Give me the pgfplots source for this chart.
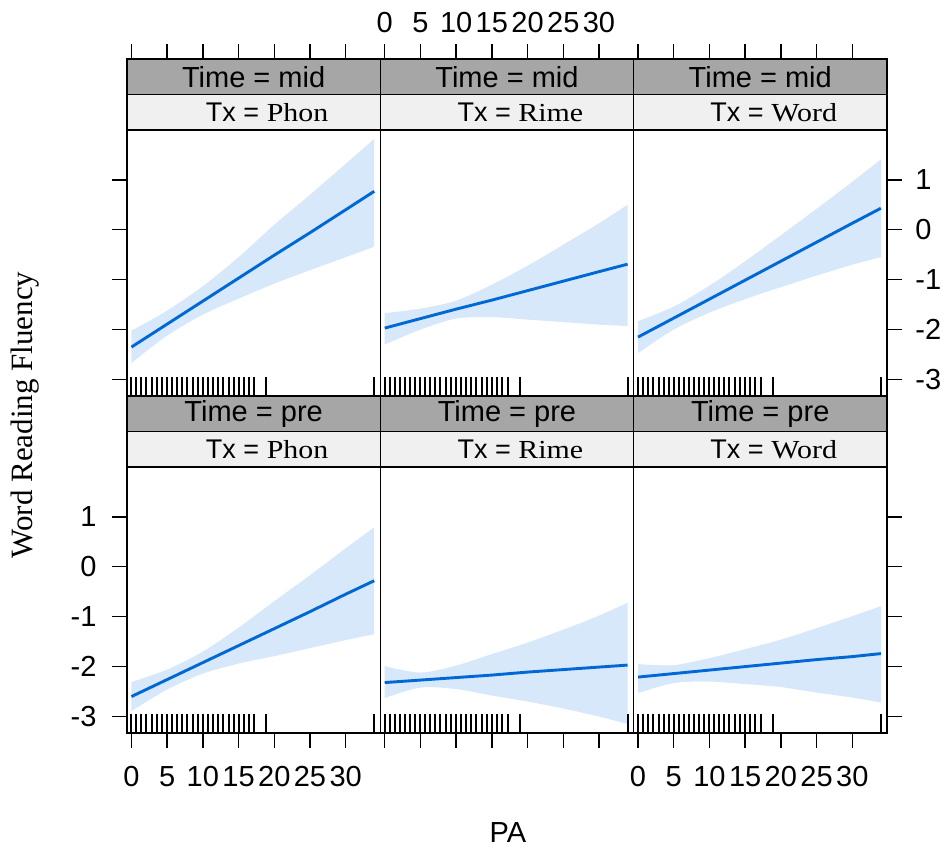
\documentclass[border=0pt]{standalone}
\usepackage{fontspec}
\setmainfont{Liberation Sans}
\newfontfamily\serifX[FakeStretch=1.15]{Liberation Serif}
\newfontfamily\serifY{Liberation Serif}
\usepackage{pgfplots}
\pgfplotsset{compat=1.18}
\usepackage{pgfplotstable}
\usepgfplotslibrary{fillbetween}

\definecolor{stripD}{RGB}{166,166,166}
\definecolor{stripL}{RGB}{240,240,240}
\definecolor{bandc}{RGB}{214,232,250}
\definecolor{fitc}{RGB}{0,104,212}

\pgfplotstableread{
x fit lo hi
0 -2.35 -2.67 -2.02
5 -1.89 -2.12 -1.62
10 -1.43 -1.70 -1.13
15 -0.97 -1.38 -0.55
20 -0.51 -1.08 0.10
25 -0.06 -0.81 0.70
30 0.40 -0.55 1.32
34 0.77 -0.34 1.82
}\tabMP
\pgfplotstableread{
x fit lo hi
0 -1.97 -2.30 -1.67
5 -1.78 -2.00 -1.58
10 -1.59 -1.78 -1.42
15 -1.41 -1.75 -1.10
20 -1.22 -1.80 -0.72
25 -1.03 -1.85 -0.30
30 -0.84 -1.90 0.13
34 -0.69 -1.93 0.50
}\tabMR
\pgfplotstableread{
x fit lo hi
0 -2.15 -2.47 -1.83
5 -1.77 -2.00 -1.54
10 -1.39 -1.66 -1.12
15 -1.01 -1.39 -0.63
20 -0.63 -1.15 -0.11
25 -0.25 -0.92 0.42
30 0.13 -0.70 0.96
34 0.43 -0.55 1.41
}\tabMW
\pgfplotstableread{
x fit lo hi
0 -2.60 -2.89 -2.31
5 -2.26 -2.46 -2.06
10 -1.92 -2.14 -1.70
15 -1.58 -1.94 -1.22
20 -1.24 -1.79 -0.69
25 -0.90 -1.63 -0.17
30 -0.55 -1.47 0.37
34 -0.28 -1.35 0.79
}\tabPP
\pgfplotstableread{
x fit lo hi
0 -2.32 -2.63 -1.99
5 -2.27 -2.42 -2.12
10 -2.22 -2.45 -1.98
15 -2.17 -2.58 -1.75
20 -2.11 -2.70 -1.52
25 -2.06 -2.84 -1.26
30 -2.01 -3.00 -0.98
34 -1.97 -3.15 -0.72
}\tabPR
\pgfplotstableread{
x fit lo hi
0 -2.21 -2.53 -1.95
5 -2.14 -2.33 -1.97
10 -2.07 -2.30 -1.83
15 -2.00 -2.35 -1.65
20 -1.93 -2.41 -1.46
25 -1.86 -2.52 -1.23
30 -1.80 -2.62 -0.99
34 -1.74 -2.72 -0.79
}\tabPW
\pgfplotstableread{
x y
0 -3.14
0.7 -3.14
1.4 -3.14
2.1 -3.14
2.9 -3.14
3.6 -3.14
4.3 -3.14
5.0 -3.14
5.7 -3.14
6.4 -3.14
7.1 -3.14
7.8 -3.14
8.6 -3.14
9.3 -3.14
10.0 -3.14
10.7 -3.14
11.4 -3.14
12.1 -3.14
12.8 -3.14
13.6 -3.14
14.3 -3.14
15.0 -3.14
15.7 -3.14
16.4 -3.14
17.2 -3.14
18.9 -3.14
34.0 -3.14
}\rug

\pgfplotsset{panel/.style={scale only axis, width=253.3pt, height=337pt,
  xmin=-0.62, xmax=34.85, ymin=-3.33, ymax=3.42, axis on top,
  axis line style={line width=1.6pt, black},
  tick style={line width=1.4pt, black}, major tick length=15pt, tick align=outside,
  xtick={0,5,...,30}, ytick={-3,-2,-1,0,1},
  xticklabels={0,5,10,15,20,25,30}, yticklabels={-3,-2,-1,0,1},
  tick label style={font=\fontsize{29}{30}\selectfont},
  anchor=south west}}

\newcommand\panelcontent[4]{%
  \addplot[name path=hi#4, draw=none, smooth] table[x=x,y=hi]{#1};
  \addplot[name path=lo#4, draw=none, smooth] table[x=x,y=lo]{#1};
  \addplot[fill=bandc, draw=none] fill between[of=hi#4 and lo#4];
  \addplot[fitc, line width=2.9pt] table[x=x,y=fit]{#1};
  \addplot[only marks, mark=|, mark size=9.5pt, mark options={line width=2pt, black}] table[x=x,y=y]{\rug};
  \draw[fill=stripL, line width=1.6pt] (axis cs:-0.62,2.0) rectangle (axis cs:34.85,2.711);
  \draw[fill=stripD, line width=1.6pt] (axis cs:-0.62,2.711) rectangle (axis cs:34.85,3.42);
  \node[font=\fontsize{29}{30}\selectfont] at (axis cs:17.115,3.065) {Time = #2};
  \node[font=\fontsize{27}{28}\selectfont] at (axis cs:19.0,2.355) {Tx = {\serifX\fontsize{26}{27}\selectfont #3}};
}

\begin{document}
\begin{tikzpicture}[x=1pt,y=1pt]
% top row
\begin{axis}[panel, at={(127pt,454pt)}, xtick pos=right, xticklabels={}, ytick pos=left, yticklabels={}]
\panelcontent{\tabMP}{mid}{Phon}{a}
\end{axis}
\begin{axis}[panel, at={(380.3pt,454pt)}, xtick pos=right, xticklabel pos=right, ytick=\empty,
  xticklabel style={yshift=8pt}]
\panelcontent{\tabMR}{mid}{Rime}{b}
\end{axis}
\begin{axis}[panel, at={(633.6pt,454pt)}, xtick pos=right, xticklabels={}, ytick pos=right, yticklabel pos=right,
  yticklabel style={xshift=10pt}]
\panelcontent{\tabMW}{mid}{Word}{c}
\end{axis}
% bottom row
\begin{axis}[panel, at={(127pt,117pt)}, xtick pos=left, ytick pos=left, yticklabel pos=left,
  xticklabel style={yshift=-15pt}, yticklabel style={xshift=-12pt}]
\panelcontent{\tabPP}{pre}{Phon}{d}
\end{axis}
\begin{axis}[panel, at={(380.3pt,117pt)}, xtick pos=left, xticklabels={}, ytick=\empty]
\panelcontent{\tabPR}{pre}{Rime}{e}
\end{axis}
\begin{axis}[panel, at={(633.6pt,117pt)}, xtick pos=left, ytick pos=right, yticklabels={},
  xticklabel style={yshift=-15pt}]
\panelcontent{\tabPW}{pre}{Word}{f}
\end{axis}
\node[rotate=90, font=\serifY\fontsize{31}{32}\selectfont] at (25pt,435pt) {Word Reading Fluency};
\node[font=\fontsize{29}{30}\selectfont] at (508pt,17pt) {PA};
\path (0pt,0pt) rectangle (950pt,850pt);
\end{tikzpicture}
\end{document}
